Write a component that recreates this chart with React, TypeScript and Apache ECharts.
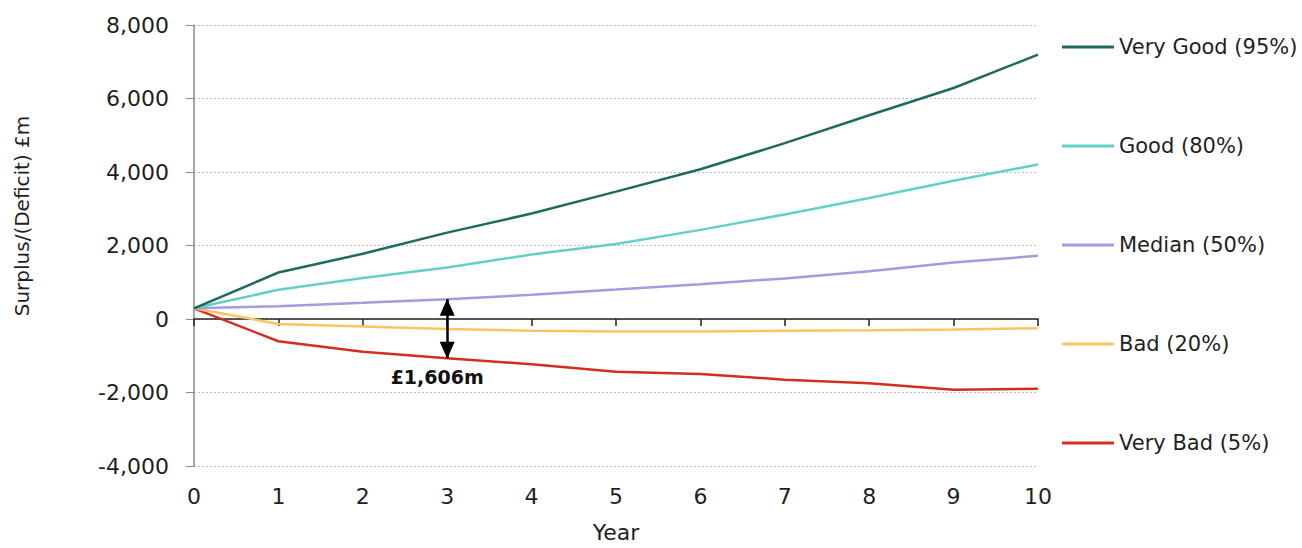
import React, { useEffect, useRef } from "react";
import * as echarts from "echarts";

// Projection years
const years = [0, 1, 2, 3, 4, 5, 6, 7, 8, 9, 10];

// Surplus/(deficit) paths in £m by scenario percentile
const veryGood = [290, 1265, 1775, 2350, 2870, 3465, 4075, 4785, 5545, 6285, 7195];
const good = [290, 795, 1115, 1400, 1755, 2040, 2425, 2845, 3290, 3760, 4205];
const median = [290, 350, 440, 536, 660, 800, 945, 1105, 1300, 1535, 1720];
const bad = [290, -135, -205, -275, -320, -340, -340, -320, -305, -285, -250];
const veryBad = [290, -605, -890, -1070, -1230, -1435, -1495, -1650, -1745, -1925, -1900];

const seriesNames = ["Very Good (95%)", "Good (80%)", "Median (50%)", "Bad (20%)", "Very Bad (5%)"];
const seriesColors = ["#1E6B5E", "#62D0C5", "#A99ADF", "#FFC361", "#D12F1F"];
const seriesValues = [veryGood, good, median, bad, veryBad];

const yTicks = { min: -4000, max: 8000, interval: 2000 };

// Gap highlighted between the median and the very bad path
const gapYear = 3;

const FONT = "DejaVu Sans";
const TEXT = "#1f1f1f";

export default function App() {
  const ref = useRef<HTMLDivElement>(null);

  useEffect(() => {
    if (!ref.current) return;
    const chart = echarts.init(ref.current, null, { renderer: "svg" });

    const gapTop = median[gapYear];
    const gapBottom = veryBad[gapYear];
    const gap = gapTop - gapBottom;
    const gapLabel = "£" + gap.toLocaleString("en-GB") + "m";

    const series: any[] = seriesNames.map((name, i) => ({
      name,
      type: "line",
      data: years.map((y, k) => [y, seriesValues[i][k]]),
      symbol: "none",
      lineStyle: { color: seriesColors[i], width: 2.5 },
      itemStyle: { color: seriesColors[i] },
      z: 10 - i,
    }));

    series[2].markLine = {
      silent: true,
      symbol: ["triangle", "triangle"],
      symbolSize: [15, 17],
      symbolOffset: [[0, 8], [0, 8]],
      lineStyle: { color: "#000", width: 2.5, type: "solid" },
      label: {
        show: true,
        position: "end",
        formatter: gapLabel,
        fontFamily: FONT,
        fontSize: 19,
        fontWeight: "bold",
        color: "#111",
        distance: 7,
        offset: [-10, 2],
      },
      data: [[{ coord: [gapYear, gapTop] }, { coord: [gapYear, gapBottom] }]],
      z: 20,
    };

    chart.setOption({
      animation: false,
      grid: { left: 194, right: 264, top: 25, bottom: 75, containLabel: false },
      legend: {
        orient: "vertical",
        left: 1057,
        top: 30,
        itemWidth: 52,
        itemHeight: 3,
        itemGap: 75,
        icon: "rect",
        data: seriesNames,
        textStyle: { fontFamily: FONT, fontSize: 21, color: TEXT, lineHeight: 24 },
      },
      xAxis: [
        {
          type: "value",
          min: 0,
          max: 10,
          interval: 1,
          position: "bottom",
          axisLine: { show: false, onZero: false },
          axisTick: { show: false },
          splitLine: { show: false },
          axisLabel: { fontFamily: FONT, fontSize: 22, color: TEXT, margin: 19 },
          name: "Year",
          nameLocation: "middle",
          nameGap: 55,
          nameTextStyle: { fontFamily: FONT, fontSize: 22, color: TEXT },
        },
        {
          type: "value",
          min: 0,
          max: 10,
          interval: 1,
          position: "bottom",
          axisLine: { show: true, onZero: true, lineStyle: { color: "#222", width: 1.5 } },
          axisTick: { show: true, length: 7, lineStyle: { color: "#222", width: 1.5 } },
          axisLabel: { show: false },
          splitLine: { show: false },
        },
      ],
      yAxis: {
        type: "value",
        min: yTicks.min,
        max: yTicks.max,
        interval: yTicks.interval,
        axisLine: { show: true, onZero: false, lineStyle: { color: "#8a8a8a", width: 1.5 } },
        axisTick: { show: true, length: 8, lineStyle: { color: "#8a8a8a", width: 1 } },
        axisLabel: {
          fontFamily: FONT,
          fontSize: 22,
          color: TEXT,
          margin: 25,
          formatter: (v: number) => v.toLocaleString("en-GB"),
        },
        splitLine: { show: true, lineStyle: { color: "#bdbdbd", width: 1, type: [2, 2] } },
      },
      graphic: [
        {
          type: "text",
          x: 22,
          y: 216,
          rotation: Math.PI / 2,
          style: {
            text: "Surplus/(Deficit) £m",
            fontFamily: FONT,
            fontSize: 20,
            fill: TEXT,
            align: "center",
            verticalAlign: "middle",
          },
        },
      ],
      series,
    });

    return () => chart.dispose();
  }, []);

  return (
    <div
      ref={ref}
      style={{ position: "fixed", left: 0, top: 0, width: 1302, height: 548, background: "#fff" }}
    />
  );
}
